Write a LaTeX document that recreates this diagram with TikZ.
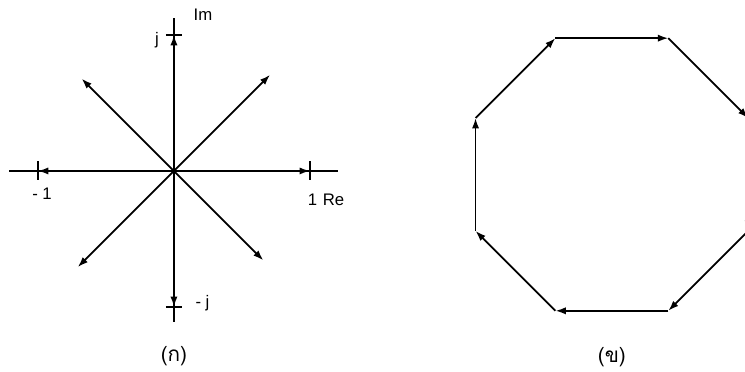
\documentclass[tikz,border=0pt]{standalone}
\usepackage{fontspec}
\setmainfont{Liberation Sans}
\newfontfamily\thaifont[Script=Thai]{Loma}
\usetikzlibrary{arrows.meta}
\tikzset{
	vec/.style={-{Latex[length=6.5pt,width=4.5pt]}},
	lbl/.style={font=\fontsize{10.5}{12}\selectfont},
	capt/.style={font=\thaifont\fontsize{13}{15}\selectfont}
}
\begin{document}
\begin{tikzpicture}[scale=3,line width=1.1pt]
	\useasboundingbox (-1.279,-1.471) rectangle (4.199,1.257);
	% (ก) the eight unit vectors
	\coordinate (O) at (0,0);
	\coordinate (xl) at (-1.21,0);
	\coordinate (xr) at (1.21,0);
	\coordinate (yt) at (0,1.125);
	\coordinate (yb) at (0,-1.11);
	\draw (xl) to (xr);
	\draw (yb) to (yt);
	\coordinate (p0) at (0:1);
	\coordinate (p45) at (45:1);
	\coordinate (p90) at (90:1);
	\coordinate (p135) at (135:0.96);
	\coordinate (p180) at (180:1);
	\coordinate (p225) at (225:1);
	\coordinate (p270) at (270:1);
	\coordinate (p315) at (315:0.93);
	\draw[vec] (O) to (p0);
	\draw[vec] (O) to (p45);
	\draw[vec] (O) to (p90);
	\draw[vec] (O) to (p135);
	\draw[vec] (O) to (p180);
	\draw[vec] (O) to (p225);
	\draw[vec] (O) to (p270);
	\draw[vec] (O) to (p315);
	\draw (p0) ++(0,0.07) -- ++(0,-0.14);
	\draw (p180) ++(0,0.07) -- ++(0,-0.14);
	\draw (p90) ++(-0.06,0) -- ++(0.12,0);
	\draw (p270) ++(-0.06,0) -- ++(0.12,0);
	\node[lbl,anchor=west] (im) at (0.1,1.147) {Im};
	\node[lbl] (j) at (-0.125,0.965) {j};
	\node[lbl] (mone) at (-0.97,-0.165) {- 1};
	\node[lbl,anchor=west] (re) at (0.94,-0.213) {1\,\,Re};
	\node[lbl] (mj) at (0.21,-0.975) {- j};
	\node[capt] (ka) at (0,-1.36) {(ก)};
	% (ข) the vectors head to tail
	\begin{scope}[shift={(3.22,-0.026)}]
		\coordinate (v1) at (22.5:1.085);
		\coordinate (v2) at (67.5:1.085);
		\coordinate (v3) at (112.5:1.085);
		\coordinate (v4) at (157.5:1.085);
		\coordinate (v5) at (202.5:1.085);
		\coordinate (v6) at (247.5:1.085);
		\coordinate (v7) at (292.5:1.085);
		\coordinate (v8) at (337.5:1.085);
		\draw[vec] (v3) to (v2);
		\draw[vec] (v2) to (v1);
		\draw[vec] (v1) to (v8);
		\draw[vec] (v8) to (v7);
		\draw[vec] (v7) to (v6);
		\draw[vec] (v6) to (v5);
		\draw[vec] (v5) to (v4);
		\draw[vec] (v4) to (v3);
		\node[capt] (kho) at (0,-1.34) {(ข)};
	\end{scope}
\end{tikzpicture}
\end{document}
